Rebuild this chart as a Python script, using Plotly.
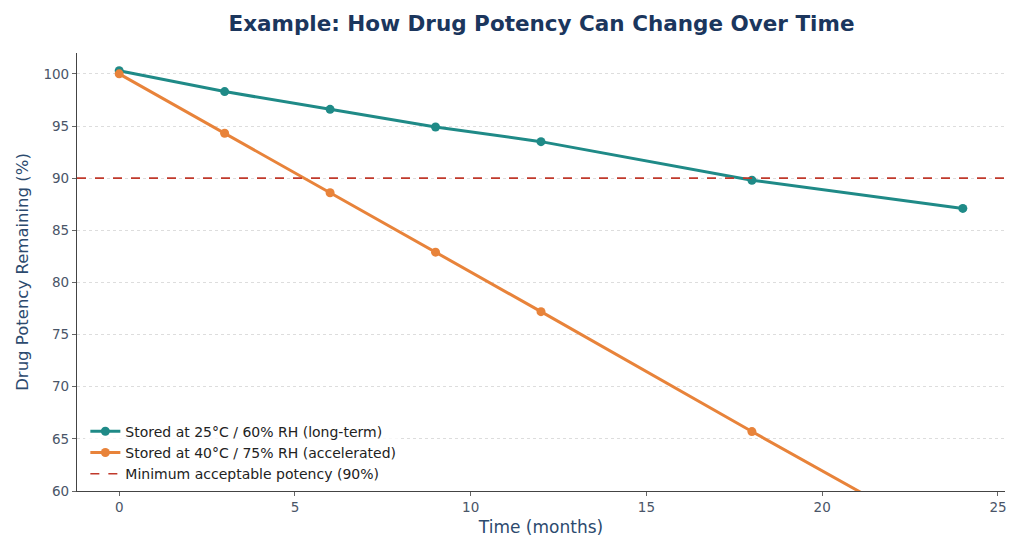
import plotly.graph_objects as go

months = [0, 3, 6, 9, 12, 18, 24]
potency_25c = [100.3, 98.3, 96.6, 94.9, 93.5, 89.8, 87.1]
potency_40c = [100.0, 94.3, 88.6, 82.9, 77.2, 65.7, 54.4]
threshold = 90
x_ticks = [0, 5, 10, 15, 20, 25]
y_ticks = [60, 65, 70, 75, 80, 85, 90, 95, 100]

teal = "#1f8a87"
orange = "#e8833a"
red = "#c0392b"
navy = "#1b365d"

fig = go.Figure()
fig.add_trace(go.Scatter(
    x=months, y=potency_25c, mode="lines+markers",
    name="Stored at 25°C / 60% RH (long-term)",
    line=dict(color=teal, width=3), marker=dict(size=9, color=teal)))
fig.add_trace(go.Scatter(
    x=months, y=potency_40c, mode="lines+markers",
    name="Stored at 40°C / 75% RH (accelerated)",
    line=dict(color=orange, width=3), marker=dict(size=9, color=orange)))
fig.add_trace(go.Scatter(
    x=[-1.2, 25.2], y=[threshold, threshold], mode="lines",
    name="Minimum acceptable potency (90%)",
    line=dict(color=red, width=1.6, dash="dash")))

fig.update_layout(
    width=1024, height=554,
    margin=dict(l=77, r=19, t=53, b=63),
    paper_bgcolor="white", plot_bgcolor="white",
    font=dict(family="DejaVu Sans", color="#4a5568"),
    title=dict(text="<b>Example: How Drug Potency Can Change Over Time</b>",
               x=0.5288, xanchor="center", y=0.958, yanchor="middle",
               font=dict(size=21.5, color=navy, family="DejaVu Sans")),
    legend=dict(x=0.009, y=0.003, xanchor="left", yanchor="bottom",
                bgcolor="rgba(255,255,255,0.8)", font=dict(size=14, color="#222222"),
                tracegroupgap=0, itemwidth=30),
    showlegend=True,
)
fig.update_xaxes(
    range=[-1.2, 25.2], tickvals=x_ticks, showgrid=False, zeroline=False,
    showline=True, linecolor="#444444", linewidth=1.2,
    ticks="outside", ticklen=4, tickcolor="#666666",
    tickfont=dict(size=13.5, color="#4a5568"),
    title=dict(text="Time (months)", font=dict(size=17, color="#2c4a6e"), standoff=6))
fig.update_yaxes(
    range=[60, 102], tickvals=y_ticks, showgrid=True,
    gridcolor="#dddddd", griddash="dot", gridwidth=1, zeroline=False,
    showline=True, linecolor="#444444", linewidth=1.2,
    ticks="outside", ticklen=4, tickcolor="#666666",
    tickfont=dict(size=13.5, color="#4a5568"),
    title=dict(text="Drug Potency Remaining (%)", font=dict(size=16.5, color="#2c4a6e"), standoff=10))

fig.write_html("out.html")
